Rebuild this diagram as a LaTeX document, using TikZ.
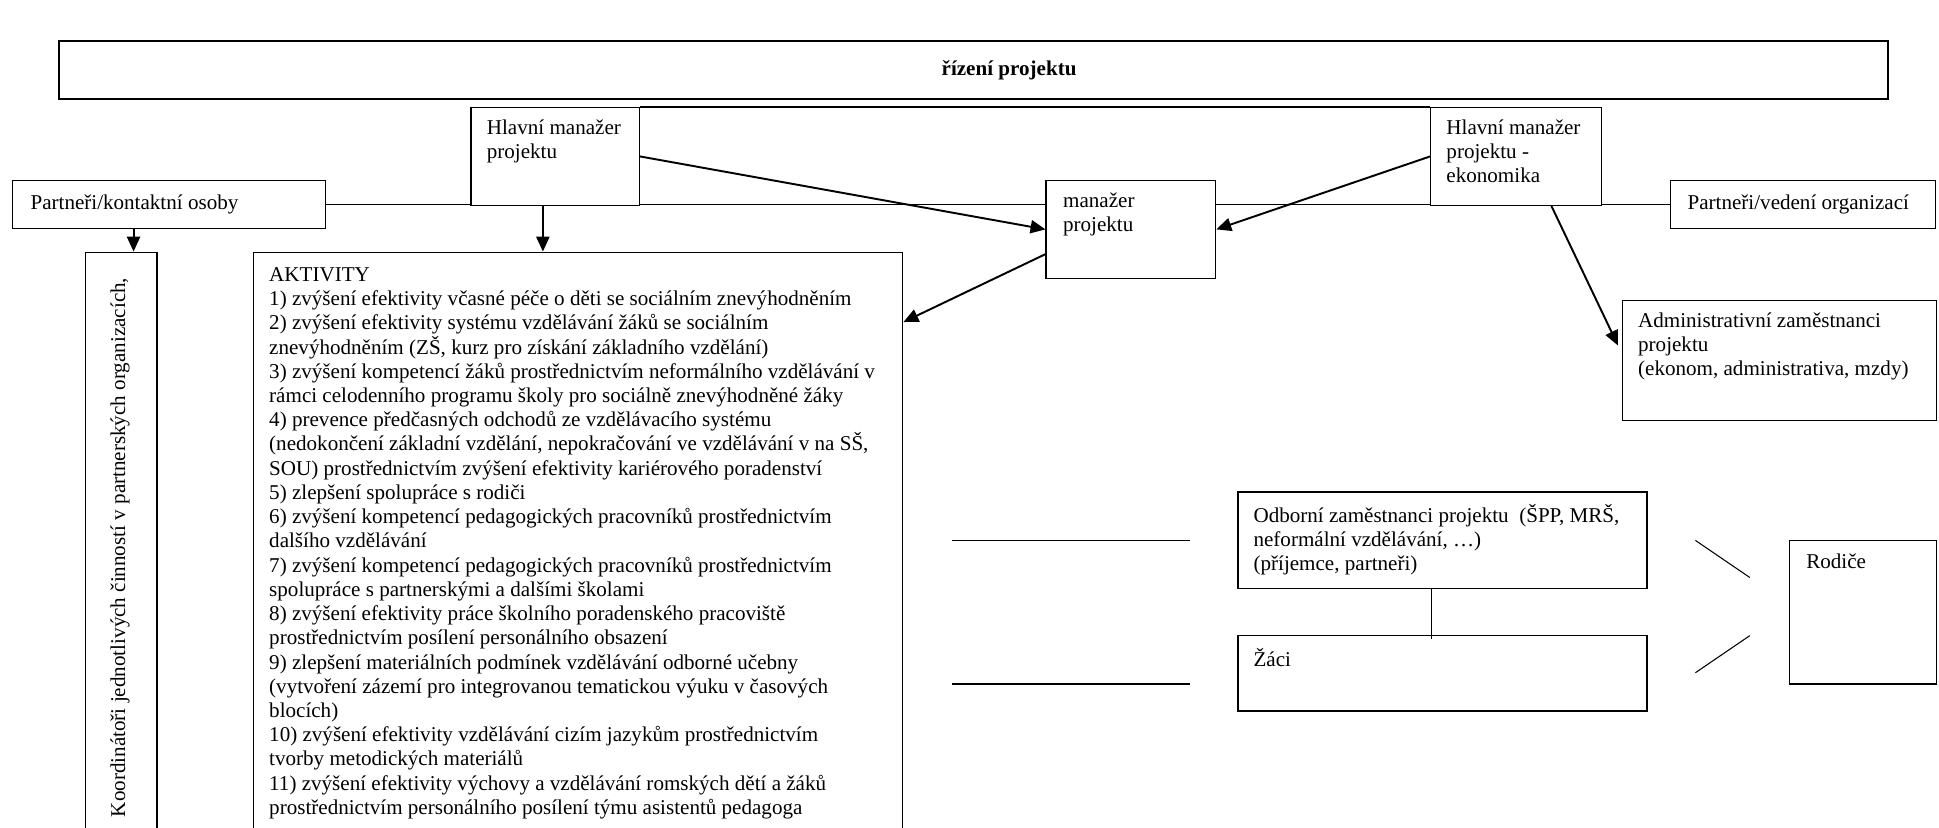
\documentclass[tikz,border=0pt]{standalone}
\usepackage{fontspec}
\setmainfont{Liberation Serif}
\usetikzlibrary{arrows.meta,fit,backgrounds}
\begin{document}
\begin{tikzpicture}[x=0.7042pt,y=-0.7042pt,
  box/.style={draw, line width=0.8pt, fill=white, inner sep=0pt},
  txt/.style={inner sep=0pt, align=left, font=\fontsize{12}{13.8}\selectfont},
  arr/.style={line width=1.1pt, -{Triangle[length=8.5pt,width=7.5pt]}},
  ln/.style={line width=0.8pt}]
\clip (0,0) rectangle (1568,669);

% boxes
\node[box, line width=1.1pt, fit={(48,33) (1527,80)}] (rizeni) {};
\node[box, fit={(10,146) (263,185)}] (partK) {};
\node[box, fit={(381,87) (517,166)}] (hm) {};
\node[box, fit={(1157,87) (1295,166)}] (hme) {};
\node[box, fit={(1351,146) (1565,185)}] (partV) {};
\node[box, fit={(846,146) (983,225)}] (man) {};
\node[box, fit={(1312,243) (1566,340)}] (admin) {};
\node[box, fit={(1001,398) (1332,476)}] (odb) {};
\node[box, fit={(1001,514) (1332,575)}] (zaci) {};
\node[box, fit={(1447,437) (1566,553)}] (rod) {};
\node[box, fit={(205,204) (730,720)}] (akt) {};
\node[box, fit={(69,204) (127,720)}] (koord) {};

% texts
\node[txt, font=\fontsize{12}{13.8}\selectfont\bfseries] (rizeniT) at (816,57) {řízení projektu};
\node[txt, anchor=west] (partKT) at ([shift={(15,0)}]partK.west) {Partneři/kontaktní osoby};
\node[txt, anchor=west] (partVT) at ([shift={(14,0)}]partV.west) {Partneři/vedení organizací};
\node[txt, anchor=north west] (hmT) at ([shift={(13,10)}]hm.north west) {Hlavní manažer\\projektu};
\node[txt, anchor=north west] (hmeT) at ([shift={(13,10)}]hme.north west) {Hlavní manažer\\projektu -\\ekonomika};
\node[txt, anchor=north west] (manT) at ([shift={(14,10)}]man.north west) {manažer\\projektu};
\node[txt, anchor=north west] (adminT) at ([shift={(13,10)}]admin.north west) {Administrativní zaměstnanci\\projektu\\(ekonom, administrativa, mzdy)};
\node[txt, anchor=north west] (odbT) at ([shift={(13,10)}]odb.north west) {Odborní zaměstnanci projektu~ (ŠPP, MRŠ,\\neformální vzdělávání, …)\\(příjemce, partneři)};
\node[txt, anchor=north west] (zaciT) at ([shift={(13,11)}]zaci.north west) {Žáci};
\node[txt, anchor=north west] (rodT) at ([shift={(14,11)}]rod.north west) {Rodiče};
\node[txt, anchor=north west] (aktT) at ([shift={(13,12.5)}]akt.north west) {AKTIVITY\\
1) zvýšení efektivity včasné péče o děti se sociálním znevýhodněním\\
2) zvýšení efektivity systému vzdělávání žáků se sociálním\\
znevýhodněním (ZŠ, kurz pro získání základního vzdělání)\\
3) zvýšení kompetencí žáků prostřednictvím neformálního vzdělávání v\\
rámci celodenního programu školy pro sociálně znevýhodněné žáky\\
4) prevence předčasných odchodů ze vzdělávacího systému\\
(nedokončení základní vzdělání, nepokračování ve vzdělávání v na SŠ,\\
SOU) prostřednictvím zvýšení efektivity kariérového poradenství\\
5) zlepšení spolupráce s rodiči\\
6) zvýšení kompetencí pedagogických pracovníků prostřednictvím\\
dalšího vzdělávání\\
7) zvýšení kompetencí pedagogických pracovníků prostřednictvím\\
spolupráce s partnerskými a dalšími školami\\
8) zvýšení efektivity práce školního poradenského pracoviště\\
prostřednictvím posílení personálního obsazení\\
9) zlepšení materiálních podmínek vzdělávání odborné učebny\\
(vytvoření zázemí pro integrovanou tematickou výuku v časových\\
blocích)\\
10) zvýšení efektivity vzdělávání cizím jazykům prostřednictvím\\
tvorby metodických materiálů\\
11) zvýšení efektivity výchovy a vzdělávání romských dětí a žáků\\
prostřednictvím personálního posílení týmu asistentů pedagoga};
\node[txt, rotate=90, anchor=west] (koordT) at (97,661) {Koordinátoři jednotlivých činností v partnerských organizacích,};

% helper coordinates
\coordinate (kx) at (108,195);
\coordinate (hx) at (439,190);
\coordinate (l1a) at (770,437);
\coordinate (l1b) at (962,437);
\coordinate (l2a) at (770,553);
\coordinate (l2b) at (962,553);
\coordinate (d1a) at (1371,437);
\coordinate (d1b) at (1415,467);
\coordinate (d2a) at (1415,514);
\coordinate (d2b) at (1371,544);

\begin{scope}[on background layer]
  \fill[white] (0,0) rectangle (1568,669);
  \draw[ln] (partK.east) -- (partV.west);
  \draw[ln] (hm.north east) -- (hme.north west);
\end{scope}

% connectors
\draw[arr] (partK.south -| kx) -- (koord.north -| kx);
\draw[arr] (hm.south -| hx) -- (akt.north -| hx);
\draw[arr] (hm.east) -- (man.west);
\draw[arr] (hme.west) -- (man.east);
\draw[arr] ([shift={(0,20)}]man.west) -- ([shift={(0,57)}]akt.north east);
\draw[arr] ([shift={(-41,0)}]hme.south east) -- ([shift={(-3,37)}]admin.north west);
\draw[ln, line width=0.6pt] ([shift={(-9,0)}]odb.south) -- ([shift={(-9,3)}]zaci.north);
\draw[ln] (l1a) -- (l1b);
\draw[ln] (l2a) -- (l2b);
\draw[ln, line width=0.6pt] (d1a) -- (d1b);
\draw[ln, line width=0.6pt] (d2a) -- (d2b);
\end{tikzpicture}
\end{document}
